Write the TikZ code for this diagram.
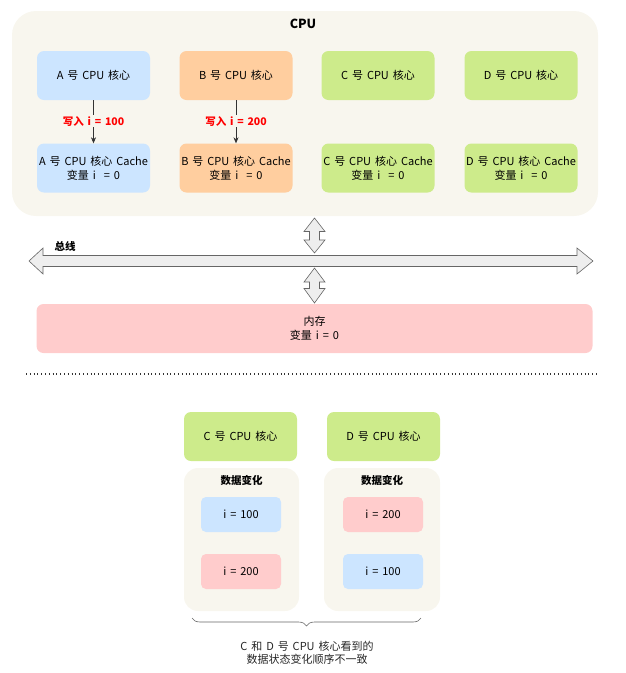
\documentclass[tikz,border=0pt]{standalone}
\usepackage{fontspec}
\setmainfont{Noto Sans CJK SC}[WordSpace=1.6]
\usetikzlibrary{arrows.meta,decorations.pathreplacing}
\definecolor{cpubg}{HTML}{F8F6EE}
\definecolor{cblue}{HTML}{CCE5FF}
\definecolor{corange}{HTML}{FFCE9F}
\definecolor{cgreen}{HTML}{CDEB8B}
\definecolor{cpink}{HTML}{FFCCCC}
\definecolor{busfill}{HTML}{EEEEEE}
\definecolor{busline}{HTML}{666666}
\definecolor{redtxt}{HTML}{FF0000}
\tikzset{
  box/.style={rectangle, rounded corners=7pt, draw=none, minimum width=113pt, minimum height=49pt, align=center, font=\fontsize{11}{14}\selectfont, inner sep=0pt},
  inbox/.style={rectangle, rounded corners=5pt, draw=none, minimum width=80pt, minimum height=35pt, font=\fontsize{11}{13}\selectfont, inner sep=0pt},
  panel/.style={rectangle, fill=cpubg, draw=none, inner sep=0pt},
  wlabel/.style={font=\bfseries\fontsize{10.5}{12}\selectfont, text=redtxt, fill=cpubg, inner sep=1pt},
  bigarrow/.style={fill=busfill, draw=busline, line width=0.6pt, line join=miter},
  wr/.style={-{Stealth[length=6pt,width=5pt]}, line width=0.5pt, draw=black!80}
}
\begin{document}
\begin{tikzpicture}[x=1pt,y=-1pt]
\useasboundingbox (0,0) rectangle (626,673);
% CPU container
\node[panel, rounded corners=24pt, minimum width=586pt, minimum height=205pt] (cpu) at (305,113.5) {};
\node[font=\bfseries\fontsize{12.5}{14}\selectfont] (cputitle) at (303,24) {CPU};
% cores
\node[box, fill=cblue] (a) at (93.5,75.5) {A 号 CPU 核心};
\node[box, fill=corange] (b) at (236,75.5) {B 号 CPU 核心};
\node[box, fill=cgreen] (c) at (378,75.5) {C 号 CPU 核心};
\node[box, fill=cgreen] (d) at (521,75.5) {D 号 CPU 核心};
% caches
\node[box, fill=cblue] (ac) at (93.5,168) {A 号 CPU 核心 Cache\\变量 i \ = 0};
\node[box, fill=corange] (bc) at (236,168) {B 号 CPU 核心 Cache\\变量 i \ = 0};
\node[box, fill=cgreen] (cc) at (378,168) {C 号 CPU 核心 Cache\\变量 i \ = 0};
\node[box, fill=cgreen] (dc) at (521,168) {D 号 CPU 核心 Cache\\变量 i \ = 0};
% write arrows
\draw[wr] (a.south) -- (ac.north);
\draw[wr] (b.south) -- (bc.north);
\node[wlabel] (wa) at (93.5,121) {写入 i = 100};
\node[wlabel] (wb) at (236,121) {写入 i = 200};
% bus
\draw[bigarrow] (29,261) -- (43,248) -- (43,255.5) -- (577,255.5) -- (577,248) -- (593,261) -- (577,274) -- (577,266.5) -- (43,266.5) -- (43,274) -- cycle;
\node[font=\bfseries\fontsize{10.5}{12}\selectfont] (bus) at (65,246) {总线};
% vertical arrows
\draw[bigarrow] (314.5,218) -- (325,231.5) -- (319.5,231.5) -- (319.5,240) -- (325,240) -- (314.5,253) -- (304,240) -- (309.5,240) -- (309.5,231.5) -- (304,231.5) -- cycle;
\draw[bigarrow] (314.5,268) -- (325,282) -- (319.5,282) -- (319.5,288.5) -- (325,288.5) -- (314.5,303) -- (304,288.5) -- (309.5,288.5) -- (309.5,282) -- (304,282) -- cycle;
% memory
\node[box, fill=cpink, minimum width=556pt, font=\fontsize{11}{13.5}\selectfont] (mem) at (314.5,328.5) {内存\\变量 i = 0};
% dotted separator
\coordinate (sepl) at (26,374);
\coordinate (sepr) at (599,374);
\draw[line width=1.1pt, dash pattern=on 0.9pt off 2.9pt, draw=black!80] (sepl) -- (sepr);
% bottom cores
\node[box, fill=cgreen] (c2) at (240.5,436.5) {C 号 CPU 核心};
\node[box, fill=cgreen] (d2) at (383.5,436.5) {D 号 CPU 核心};
% data change panels
\node[panel, rounded corners=14pt, minimum width=115pt, minimum height=143pt] (pl) at (241.5,539.5) {};
\node[panel, rounded corners=14pt, minimum width=116pt, minimum height=143pt] (pr) at (382,539.5) {};
\node[font=\bfseries\fontsize{10.5}{12}\selectfont] (tl) at (241.5,480) {数据变化};
\node[font=\bfseries\fontsize{10.5}{12}\selectfont] (tr) at (382,480) {数据变化};
\node[inbox, fill=cblue] (l1) at (241,514.5) {i = 100};
\node[inbox, fill=cpink] (l2) at (241,571.5) {i = 200};
\node[inbox, fill=cpink] (r1) at (383,514.5) {i = 200};
\node[inbox, fill=cblue] (r2) at (383,571.5) {i = 100};
% brace
\coordinate (brl) at (192,618);
\coordinate (brr) at (421,618);
\draw[draw=black!60, line width=0.6pt, decorate, decoration={brace, amplitude=8pt, mirror}] (brl) -- (brr);
\node[align=center, font=\fontsize{11}{13}\selectfont, text=black!85] (note) at (307,653) {C 和 D 号 CPU 核心看到的\\数据状态变化顺序不一致};
\end{tikzpicture}
\end{document}
